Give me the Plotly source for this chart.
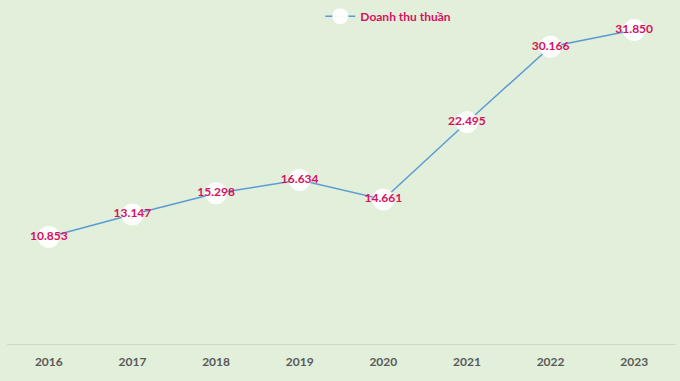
import plotly.graph_objects as go

years = ["2016", "2017", "2018", "2019", "2020", "2021", "2022", "2023"]
revenue = [10.853, 13.147, 15.298, 16.634, 14.661, 22.495, 30.166, 31.850]
labels = ["10.853", "13.147", "15.298", "16.634", "14.661", "22.495", "30.166", "31.850"]

fig = go.Figure()
fig.add_trace(go.Scatter(
    x=years, y=revenue, mode="lines+markers+text",
    name="Doanh thu thuần",
    line=dict(color="#5B9BD5", width=1.5),
    marker=dict(size=22, color="rgba(255,255,255,0.95)", line=dict(width=0)),
    text=labels, textposition="middle center",
    textfont=dict(family="Lato", size=12, color="#D80F5E", weight="bold"),
    cliponaxis=False,
))

fig.update_layout(
    width=680, height=381,
    margin=dict(l=7, r=4, t=0, b=37),
    paper_bgcolor="#E2EFDA", plot_bgcolor="#E2EFDA",
    showlegend=True,
    legend=dict(orientation="h", x=0.57, xanchor="center", y=0.995, yanchor="top",
                bgcolor="rgba(0,0,0,0)",
                font=dict(family="Lato", size=12, color="#D80F5E", weight="bold")),
    xaxis=dict(range=[-0.5, 7.5], showgrid=False, showline=True, linecolor="#D0D8CC", linewidth=1,
               ticks="", tickfont=dict(family="Lato", size=12, color="#595959", weight="bold"),
               ticklabelstandoff=7),
    yaxis=dict(range=[0, 34.9], visible=False, showgrid=False, zeroline=False),
)

fig.write_html("out.html", config={"displayModeBar": False},
               post_script="document.body.style.margin='0';")
